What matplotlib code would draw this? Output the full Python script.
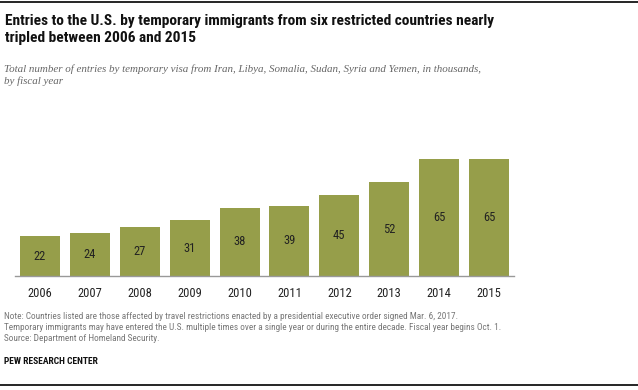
import matplotlib
matplotlib.use("Agg")
import matplotlib.pyplot as plt
from matplotlib import font_manager

years = ["2006", "2007", "2008", "2009", "2010", "2011", "2012", "2013", "2014", "2015"]
entries = [22, 24, 27, 31, 38, 39, 45, 52, 65, 65]

title = ("Entries to the U.S. by temporary immigrants from six restricted countries nearly\n"
         "tripled between 2006 and 2015")
subtitle = ("Total number of entries by temporary visa from Iran, Libya, Somalia, Sudan, Syria and Yemen, in thousands,\n"
            "by fiscal year")
notes = ("Note: Countries listed are those affected by travel restrictions enacted by a presidential executive order signed Mar. 6, 2017.\n"
         "Temporary immigrants may have entered the U.S. multiple times over a single year or during the entire decade. Fiscal year begins Oct. 1.\n"
         "Source: Department of Homeland Security.")
source = "PEW RESEARCH CENTER"

installed = {f.name for f in font_manager.fontManager.ttflist}
def pick(names):
    for n in names:
        if n in installed:
            return n
    return "DejaVu Sans"

narrow = pick(["Liberation Sans Narrow", "Roboto Condensed", "Liberation Sans"])
serif = pick(["Liberation Serif", "DejaVu Serif"])

W, H = 638, 390
fig = plt.figure(figsize=(W / 100, H / 100), dpi=100)

def fx(px):
    return px / W

def fy(py):
    return 1 - py / H

# axes placed in pixel terms: baseline at y=276, x from 15 to 514
ax = fig.add_axes([fx(15), 1 - 276 / H, 499 / W, 126 / H])
bar_color = "#969e4a"
x = range(len(years))
ax.bar(x, entries, width=0.8, color=bar_color)
ax.set_xlim(-0.5, 9.5)
ax.set_ylim(0, 70)
for i, v in enumerate(entries):
    ax.text(i, v / 2, str(v), ha="center", va="center", fontsize=9,
            family=narrow, color="#222222")
ax.set_xticks(list(x))
ax.set_xticklabels(years, fontsize=9, family=narrow, color="#222222")
ax.tick_params(axis="x", length=0, pad=8)
ax.set_yticks([])
for s in ["top", "right", "left"]:
    ax.spines[s].set_visible(False)
ax.spines["bottom"].set_color("#999999")
ax.spines["bottom"].set_linewidth(1)

fig.text(fx(5), fy(14), title, ha="left", va="top", fontsize=11.1, fontweight="bold",
         family=narrow, color="#111111", linespacing=1.25)
fig.text(fx(4), fy(64), subtitle, ha="left", va="top", fontsize=7.9, style="italic",
         family=serif, color="#666666", linespacing=1.35)
fig.text(fx(4), fy(312), notes, ha="left", va="top", fontsize=6.7,
         family=narrow, color="#777777", linespacing=1.3)
fig.text(fx(4), fy(361), source, ha="left", va="center", fontsize=6.8,
         family=narrow, fontweight="bold", color="#111111")

# top and bottom rules
fig.add_artist(plt.Line2D([0, 1], [fy(2), fy(2)], color="black", linewidth=1.2))
fig.add_artist(plt.Line2D([0, 1], [fy(385), fy(385)], color="black", linewidth=1.2))

fig.savefig("out.png", dpi=100)
